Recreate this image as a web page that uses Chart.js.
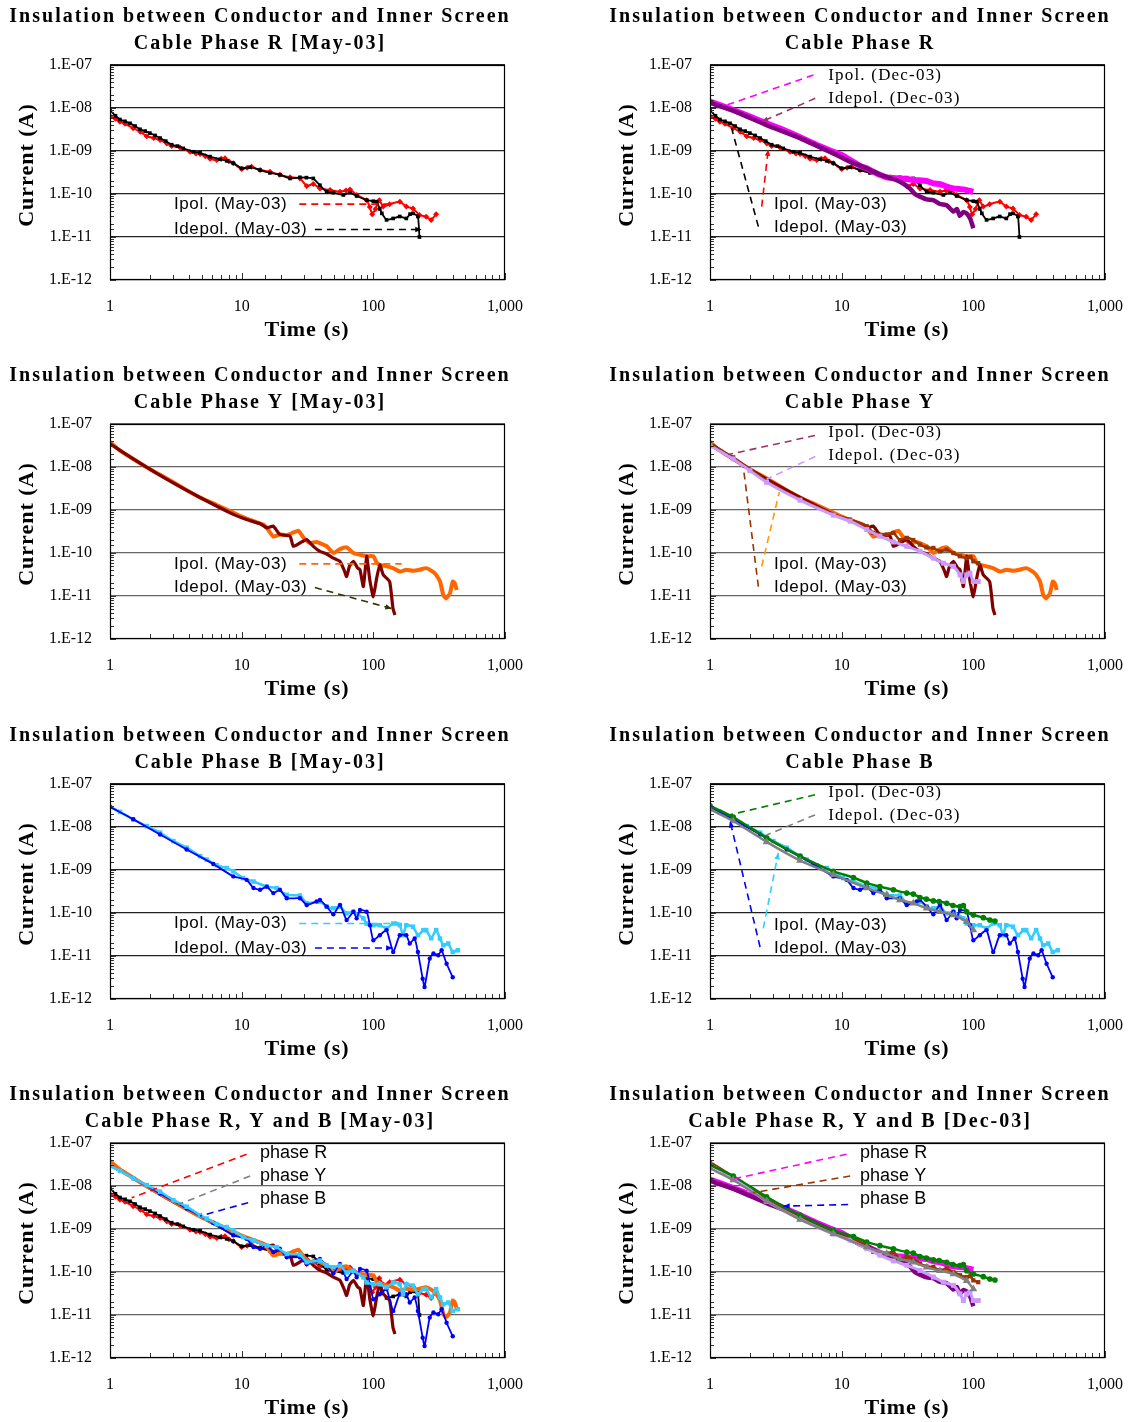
<!DOCTYPE html>
<html>
<head>
<meta charset="utf-8">
<title>Insulation between Conductor and Inner Screen</title>
<script src="https://cdn.jsdelivr.net/npm/chart.js@4.4.1/dist/chart.umd.min.js"></script>
<style>
  html, body { margin:0; padding:0; background:#fff; overflow:hidden; width:1129px; height:1422px; }
  canvas { position:absolute; }
</style>
</head>
<body>
<canvas id="p1" width="529" height="344" style="left:0;top:0"></canvas>
<canvas id="p2" width="529" height="344" style="left:600px;top:0"></canvas>
<canvas id="p3" width="529" height="344" style="left:0;top:359px"></canvas>
<canvas id="p4" width="529" height="344" style="left:600px;top:359px"></canvas>
<canvas id="p5" width="529" height="344" style="left:0;top:719px"></canvas>
<canvas id="p6" width="529" height="344" style="left:600px;top:719px"></canvas>
<canvas id="p7" width="529" height="344" style="left:0;top:1078px"></canvas>
<canvas id="p8" width="529" height="344" style="left:600px;top:1078px"></canvas>
<script>
/* axes */
const xDecades = [1, 10, 100, 1000];
const xTickLabels = ["1", "10", "100", "1,000"];
const yDecades = [1e-12, 1e-11, 1e-10, 1e-9, 1e-8, 1e-7];
const yTickLabels = ["1.E-12", "1.E-11", "1.E-10", "1.E-09", "1.E-08", "1.E-07"];

/* phase R, May-03 */
const rMayPolT = [1,1.1,1.19,1.3,1.5,1.7,1.9,2.15,2.4,2.7,2.94,3.4,4.05,4.5,4.83,5.3,5.75,6.46,7,7.47,8,8.64,10,11,11.9,13.8,16.4,19.5,23.3,27.7,31.2,35,39.3,46.9,55.8,62,66.5,74.7,89,94,98,104,111,119,133,159,178,200,224,252,275,300];
const rMayPolI = [6.5e-9,5.6e-9,4.8e-9,4.3e-9,3.4e-9,2.8e-9,2.2e-9,2.0e-9,1.8e-9,1.5e-9,1.3e-9,1.2e-9,9.6e-10,8.8e-10,8.5e-10,7.5e-10,6.6e-10,6.2e-10,6.6e-10,6.8e-10,5.8e-10,5.2e-10,3.8e-10,4.1e-10,4.3e-10,3.6e-10,3.3e-10,2.8e-10,2.44e-10,2.3e-10,1.53e-10,1.7e-10,1.35e-10,1.24e-10,1.13e-10,1.2e-10,1.28e-10,9.5e-11,7.2e-11,5.0e-11,3.4e-11,4.5e-11,7.2e-11,5.1e-11,5.8e-11,6.6e-11,5.1e-11,4.6e-11,3.25e-11,2.97e-11,2.5e-11,3.4e-11];
const rMayDepolT = [1,1.1,1.19,1.3,1.42,1.55,1.69,1.85,2.01,2.2,2.4,2.65,2.94,3.25,3.6,4.3,4.83,5.75,6.84,7.7,8.64,10,11.57,13.8,16.4,19.5,23.3,27.7,31,35,39.3,44.2,49.7,59.2,66.5,74.7,89,100,106,112,116,126,141.5,158.7,178,190,200,218,224];
const rMayDepolI = [8.7e-9,6.6e-9,5.4e-9,4.9e-9,4.4e-9,3.8e-9,3.2e-9,2.9e-9,2.6e-9,2.3e-9,2.0e-9,1.7e-9,1.4e-9,1.3e-9,1.15e-9,9.6e-10,9.1e-10,7.4e-10,6.4e-10,5.9e-10,5.2e-10,3.95e-10,4.2e-10,3.6e-10,3.1e-10,2.8e-10,2.3e-10,2.44e-10,2.4e-10,2.3e-10,1.6e-10,1.13e-10,1.07e-10,9.5e-11,1.07e-10,9.0e-11,7.2e-11,6.8e-11,6.6e-11,4.5e-11,3.55e-11,2.5e-11,2.7e-11,3.0e-11,2.7e-11,3.4e-11,3.55e-11,3.0e-11,1.0e-11];

/* phase R, Dec-03 */
const rDecPolT = [1,1.19,1.5,2.01,2.69,3.6,4.83,6.46,8.64,10,11.57,13.8,15.5,17.4,19.5,22,27.7,32,37,44.2,49.7,56,62.7,70.6,78,84,92,100];
const rDecPolI = [1.4e-8,1.17e-8,9.0e-9,6.3e-9,4.4e-9,3.1e-9,2.08e-9,1.38e-9,9.6e-10,8.1e-10,6.2e-10,4.5e-10,3.95e-10,3.3e-10,2.8e-10,2.44e-10,2.3e-10,2.2e-10,2.1e-10,2.0e-10,1.77e-10,1.7e-10,1.48e-10,1.35e-10,1.3e-10,1.28e-10,1.2e-10,1.13e-10];
const rDecDepolT = [1,1.5,2.69,4.83,8.64,11.57,15.5,19.5,22,27.7,33,36,39.3,44.2,49.7,55.8,62.7,70.6,75,79,84,89,95,100];
const rDecDepolI = [1.33e-8,8.7e-9,4.0e-9,2.0e-9,8.8e-10,5.65e-10,3.95e-10,2.8e-10,2.5e-10,1.94e-10,1.35e-10,1.0e-10,8.7e-11,7.5e-11,7.2e-11,5.85e-11,5.5e-11,3.9e-11,4.5e-11,3.1e-11,3.8e-11,3.55e-11,2.6e-11,1.6e-11];

/* phase Y, May-03 */
const yMayPolT = [1,1.19,1.5,1.9,2.4,3.03,3.82,4.83,6.46,8.64,10,12.3,14.6,15.5,17.4,19.5,22,24.7,27,29.4,33,37,44,50,55,62.7,70.6,79,89,100,106,112,126,141,159,178,200,224,252,286,300,321,340,357,382,401,415,430];
const yMayPolI = [3.8e-8,2.4e-8,1.54e-8,9.8e-9,6.6e-9,4.4e-9,2.9e-9,1.95e-9,1.31e-9,8.66e-10,7.0e-10,5.5e-10,4.6e-10,3.85e-10,2.4e-10,2.7e-10,2.6e-10,3.0e-10,3.3e-10,2.3e-10,1.7e-10,1.8e-10,1.45e-10,1.0e-10,1.2e-10,1.35e-10,1.0e-10,9.1e-11,8.4e-11,8.4e-11,6.0e-11,5.3e-11,4.9e-11,4.45e-11,3.7e-11,4.07e-11,3.85e-11,4.07e-11,4.45e-11,3.6e-11,3.1e-11,2.17e-11,1.05e-11,8.8e-12,1.15e-11,2.17e-11,2.0e-11,1.38e-11];
const yMayDepolT = [1,1.5,2.69,4.83,8.64,10.9,13.8,15.5,17.4,19.5,23.3,24.7,27.7,31.2,35,39.3,44.2,49.7,55.8,60,62.7,66,70.6,76,79.2,84,89,94,100,106,112,119,133,141,146];
const yMayDepolI = [3.46e-8,1.54e-8,5.2e-9,1.95e-9,7.9e-10,6.0e-10,4.8e-10,3.85e-10,4.2e-10,2.7e-10,2.46e-10,1.43e-10,1.71e-10,2.05e-10,1.43e-10,1.09e-10,9.5e-11,7.6e-11,6.4e-11,4.0e-11,2.84e-11,5.0e-11,6.4e-11,4.5e-11,4.07e-11,1.66e-11,8.4e-11,2.37e-11,9.6e-12,2.6e-11,5.3e-11,3.1e-11,2.17e-11,5.1e-12,3.6e-12];

/* phase Y, Dec-03 */
const yDecPolT = [1,1.5,2.69,4.83,8.64,11.57,15.5,17.4,22,24.7,27.7,31.2,35,39.3,44,49.7,55.8,62.7,70.6,79,89,95,100,109];
const yDecPolI = [3.6e-8,1.68e-8,4.8e-9,1.78e-9,7.9e-10,6.0e-10,4.2e-10,2.94e-10,2.7e-10,2.94e-10,2.0e-10,2.25e-10,2.0e-10,1.57e-10,1.35e-10,1.31e-10,1.09e-10,1.2e-10,1.0e-10,8.4e-11,7.6e-11,8.0e-11,6.4e-11,5.8e-11];
const yDecDepolT = [1,1.5,2.01,2.69,4.83,8.64,11.57,15.5,19.5,24.7,31.2,39.3,49.7,59.2,70.6,79.2,84,89,94.3,100,109];
const yDecDepolI = [3.16e-8,1.54e-8,8.2e-9,4.4e-9,1.69e-9,7.6e-10,5.5e-10,3.5e-10,2.46e-10,1.81e-10,1.43e-10,1.09e-10,7.6e-11,5.8e-11,4.9e-11,3.1e-11,2.17e-11,3.1e-11,3.4e-11,2.17e-11,2.17e-11];

/* phase B, May-03 */
const bMayPolT = [1,1.19,1.5,1.9,2.4,3.03,3.82,4.83,5.42,6.46,7.69,8.64,10.24,12.3,15.5,18.4,22,27.7,31.2,39.3,44.2,49.7,55.8,62.7,70.6,84,89,100,112,126,141.5,158.7,168,178,200,218,240,252,275,300,321,340,370,401,438];
const bMayPolI = [2.94e-8,2.25e-8,1.51e-8,1.05e-8,7.4e-9,4.7e-9,3.3e-9,2.1e-9,1.75e-9,1.29e-9,1.11e-9,9.3e-10,6.5e-10,5.4e-10,4.1e-10,3.8e-10,2.64e-10,2.55e-10,1.69e-10,1.85e-10,1.41e-10,1.29e-10,1.41e-10,9.8e-11,1.07e-10,7.5e-11,5.7e-11,5.2e-11,5.2e-11,4.4e-11,5.7e-11,5.2e-11,3.05e-11,5.2e-11,4.8e-11,3.05e-11,4.0e-11,4.0e-11,2.6e-11,4.0e-11,2.55e-11,1.78e-11,1.95e-11,1.24e-11,1.36e-11];
const bMayDepolT = [1,1.5,2.4,3.82,6.09,8.64,10.9,12.3,13.8,15.5,17.4,19.5,22,27.7,31.2,37.1,39.3,44.2,49.7,55.8,62.7,70.6,74.7,79.2,89,94.3,100,112,126,141.5,158.7,178,189,206,218,237,245,268,286,311,330,360,401];
const bMayDepolI = [2.94e-8,1.51e-8,6.7e-9,3.0e-9,1.38e-9,7.1e-10,5.9e-10,3.8e-10,3.46e-10,4.1e-10,2.9e-10,3.46e-10,2.2e-10,2.2e-10,1.54e-10,1.85e-10,2.0e-10,1.41e-10,9.3e-11,1.54e-10,6.9e-11,1.07e-10,7.5e-11,1.18e-10,1.07e-10,5.2e-11,2.33e-11,3.05e-11,4.0e-11,1.24e-11,3.05e-11,3.05e-11,1.95e-11,2.55e-11,1.24e-11,2.95e-12,1.9e-12,8.7e-12,1.14e-11,1.04e-11,1.36e-11,6.6e-12,3.2e-12];

/* phase B, Dec-03 */
const bDecPolT = [1,1.5,2.69,4.83,8.64,12.3,15.5,19.5,24.7,31.2,35,39.3,44,49.7,55,62.7,70,79.2,84,89,100,119,133.6,146];
const bDecPolI = [3.1e-8,1.71e-8,5.6e-9,2.1e-9,9.3e-10,6.7e-10,4.96e-10,4.1e-10,3.46e-10,2.9e-10,2.75e-10,2.3e-10,2.1e-10,1.91e-10,1.85e-10,1.69e-10,1.5e-10,1.41e-10,1.5e-10,1.07e-10,9.0e-11,7.8e-11,6.9e-11,6.5e-11];
const bDecDepolT = [1,1.5,2.69,4.83,8.64,15.5,22,27.7,35,44.2,55.8,70.6,89,100];
const bDecDepolI = [2.6e-8,1.38e-8,4.5e-9,1.66e-9,7.8e-10,3.8e-10,2.64e-10,2.0e-10,1.69e-10,1.29e-10,1.07e-10,9.0e-11,6.3e-11,4.0e-11];

/* series styles */
const SERIES = {
  rMayPol:   { t: rMayPolT,   i: rMayPolI,   color: "#FF0000", width: 2,   point: "rectRot",  r: 3 },
  rMayDepol: { t: rMayDepolT, i: rMayDepolI, color: "#000000", width: 1.8, point: "rect",     r: 2.6 },
  rDecPol:   { t: rDecPolT,   i: rDecPolI,   color: "#FF00FF", width: 6,   point: "circle",   r: 0 },
  rDecDepol: { t: rDecDepolT, i: rDecDepolI, color: "#800080", width: 4.5, point: "circle",   r: 0 },
  yMayPol:   { t: yMayPolT,   i: yMayPolI,   color: "#FF6600", width: 4,   point: "circle",   r: 0 },
  yMayDepol: { t: yMayDepolT, i: yMayDepolI, color: "#800000", width: 3.2, point: "circle",   r: 0 },
  yDecPol:   { t: yDecPolT,   i: yDecPolI,   color: "#993300", width: 2.5, point: "rect",     r: 3 },
  yDecDepol: { t: yDecDepolT, i: yDecDepolI, color: "#CC99FF", width: 3,   point: "rect",     r: 3.5 },
  bMayPol:   { t: bMayPolT,   i: bMayPolI,   color: "#33CCFF", width: 2.5, point: "rect",     r: 3.2 },
  bMayDepol: { t: bMayDepolT, i: bMayDepolI, color: "#0000FF", width: 1.8, point: "circle",   r: 2.2 },
  bDecPol:   { t: bDecPolT,   i: bDecPolI,   color: "#008000", width: 2.5, point: "circle",   r: 2.8 },
  bDecDepol: { t: bDecDepolT, i: bDecDepolI, color: "#808080", width: 2.5, point: "triangle", r: 4.5 }
};

/* annotation labels and dashed leader lines (data coordinates) */
const HEAD = "Insulation between Conductor and Inner Screen";
const mayLabels = (iPol, iDepol) => [
  { text: "Ipol. (May-03)", t: 3.06, i: iPol, kind: "sans" },
  { text: "Idepol. (May-03)", t: 3.06, i: iDepol, kind: "sans" }
];
const decLabels = (iPol, iDepol) => [
  { text: "Ipol. (Dec-03)", t: 7.9, i: iPol, kind: "serif" },
  { text: "Idepol. (Dec-03)", t: 7.9, i: iDepol, kind: "serif" }
];
const phaseLabels = [
  { text: "phase R", t: 13.8, i: 6.0e-8, kind: "phase" },
  { text: "phase Y", t: 13.8, i: 1.71e-8, kind: "phase" },
  { text: "phase B", t: 13.8, i: 4.9e-9, kind: "phase" }
];

const p1Leaders = [
  { from: [27.4, 5.8e-11], to: [135, 5.8e-11], color: "#FF0000" },
  { from: [36, 1.5e-11], to: [233, 1.5e-11], color: "#000000", arrow: true }
];
const p2Leaders = [
  { from: [6.1, 5.85e-8], to: [1.34, 1.17e-8], color: "#FF00FF" },
  { from: [6.3, 1.68e-8], to: [2.47, 4.8e-9], color: "#993366", arrow: true },
  { from: [2.47, 5.1e-11], to: [2.77, 1.09e-9], color: "#FF0000", arrow: true },
  { from: [2.33, 1.74e-11], to: [1.46, 3.37e-9], color: "#000000" }
];
const p3Leaders = [
  { from: [27.4, 5.6e-11], to: [164, 5.6e-11], color: "#FF6600" },
  { from: [36, 1.57e-11], to: [138, 5.1e-12], color: "#333300", arrow: true }
];
const p4Leaders = [
  { from: [6.27, 5.4e-8], to: [1.38, 1.95e-8], color: "#993366" },
  { from: [6.3, 1.75e-8], to: [2.69, 5.2e-9], color: "#CC99FF" },
  { from: [2.47, 4.9e-11], to: [3.36, 2.6e-9], color: "#FF9900" },
  { from: [2.33, 1.65e-11], to: [1.79, 1.0e-8], color: "#993300" }
];
const p5Leaders = [
  { from: [27.4, 5.7e-11], to: [164, 5.7e-11], color: "#33CCFF", arrow: true },
  { from: [36, 1.54e-11], to: [140, 1.54e-11], color: "#0000FF", arrow: true }
];
const p6Leaders = [
  { from: [6.27, 5.6e-8], to: [1.3, 1.81e-8], color: "#008000" },
  { from: [6.27, 1.91e-8], to: [2.69, 6.5e-9], color: "#808080" },
  { from: [2.54, 4.4e-11], to: [3.3, 2.5e-9], color: "#33CCFF", arrow: true },
  { from: [2.4, 1.62e-11], to: [1.42, 1.38e-8], color: "#0000FF", arrow: true }
];
const p7Leaders = [
  { from: [10.9, 5.5e-8], to: [1.46, 5.3e-9], color: "#FF0000" },
  { from: [11.6, 1.71e-8], to: [3.3, 3.7e-9], color: "#808080" },
  { from: [11.2, 4.1e-9], to: [4.83, 2.0e-9], color: "#0000FF" }
];
const p8Leaders = [
  { from: [10.9, 5.5e-8], to: [1.46, 1.43e-8], color: "#FF00FF" },
  { from: [11.6, 1.71e-8], to: [2.13, 7.0e-9], color: "#993300" },
  { from: [11.2, 3.7e-9], to: [3.6, 3.4e-9], color: "#0000FF", arrow: true }
];

/* panels: first series listed is drawn on top */
const panels = [
  { id: "p1", title: [HEAD, "Cable Phase R [May-03]"], series: ["rMayDepol", "rMayPol"],
    leaders: p1Leaders, labels: mayLabels(5.8e-11, 1.5e-11), grid: "#222" },
  { id: "p2", title: [HEAD, "Cable Phase R"], series: ["rDecDepol", "rDecPol", "rMayDepol", "rMayPol"],
    leaders: p2Leaders, labels: decLabels(5.8e-8, 1.68e-8).concat(mayLabels(5.8e-11, 1.68e-11)), grid: "#222" },
  { id: "p3", title: [HEAD, "Cable Phase Y [May-03]"], series: ["yMayDepol", "yMayPol"],
    leaders: p3Leaders, labels: mayLabels(5.6e-11, 1.57e-11), grid: "#666" },
  { id: "p4", title: [HEAD, "Cable Phase Y"], series: ["yDecDepol", "yDecPol", "yMayDepol", "yMayPol"],
    leaders: p4Leaders, labels: decLabels(6.5e-8, 1.85e-8).concat(mayLabels(5.6e-11, 1.57e-11)), grid: "#666" },
  { id: "p5", title: [HEAD, "Cable Phase B [May-03]"], series: ["bMayDepol", "bMayPol"],
    leaders: p5Leaders, labels: mayLabels(5.7e-11, 1.54e-11), grid: "#222" },
  { id: "p6", title: [HEAD, "Cable Phase B"], series: ["bDecDepol", "bDecPol", "bMayDepol", "bMayPol"],
    leaders: p6Leaders, labels: decLabels(6.4e-8, 1.81e-8).concat(mayLabels(5.2e-11, 1.48e-11)), grid: "#222" },
  { id: "p7", title: [HEAD, "Cable Phase R, Y and B [May-03]"],
    series: ["bMayPol", "bMayDepol", "yMayPol", "yMayDepol", "rMayDepol", "rMayPol"],
    leaders: p7Leaders, labels: phaseLabels, grid: "#666" },
  { id: "p8", title: [HEAD, "Cable Phase R, Y and B [Dec-03]"],
    series: ["bDecDepol", "bDecPol", "yDecDepol", "yDecPol", "rDecDepol", "rDecPol"],
    leaders: p8Leaders, labels: phaseLabels, grid: "#666" }
];

const isDecade = v => {
  const l = Math.log10(v);
  return Math.abs(l - Math.round(l)) < 1e-6;
};
const decadeLabel = (v, decades, labels) => {
  const k = decades.findIndex(d => Math.abs(Math.log10(d) - Math.log10(v)) < 1e-6);
  return k >= 0 ? labels[k] : "";
};

const LABEL_FONTS = {
  sans:  { font: '17px "Liberation Sans"', spacing: "0.6px" },
  serif: { font: '17px "Liberation Serif"', spacing: "1.2px" },
  phase: { font: '18px "Liberation Sans"', spacing: "0px" }
};

/* frame, inner ticks, arrowheads, texts */
const decoPlugin = {
  id: "deco",
  afterDraw(chart) {
    const { ctx, chartArea: a, scales: { x, y } } = chart;
    const p = chart.options.plugins.deco;
    ctx.save();

    ctx.strokeStyle = "#333";
    ctx.lineWidth = 1;
    ctx.beginPath();
    y.ticks.forEach(tk => {
      const py = Math.round(y.getPixelForValue(tk.value)) + 0.5;
      const len = isDecade(tk.value) ? 6 : 4;
      ctx.moveTo(a.left, py); ctx.lineTo(a.left + len, py);
    });
    x.ticks.forEach(tk => {
      const px = Math.round(x.getPixelForValue(tk.value)) + 0.5;
      const len = isDecade(tk.value) ? 7 : 5;
      ctx.moveTo(px, a.bottom); ctx.lineTo(px, a.bottom - len);
    });
    ctx.stroke();

    ctx.strokeStyle = "#000";
    ctx.lineWidth = 1.2;
    ctx.strokeRect(a.left + 0.5, a.top + 0.5, a.right - a.left - 1, a.bottom - a.top - 1);

    // arrow heads on leaders
    p.leaders.filter(l => l.arrow).forEach(l => {
      const x0 = x.getPixelForValue(l.from[0]), y0 = y.getPixelForValue(l.from[1]);
      const x1 = x.getPixelForValue(l.to[0]), y1 = y.getPixelForValue(l.to[1]);
      const ang = Math.atan2(y1 - y0, x1 - x0);
      ctx.fillStyle = l.color;
      ctx.beginPath();
      ctx.moveTo(x1, y1);
      ctx.lineTo(x1 - 7 * Math.cos(ang - 0.4), y1 - 7 * Math.sin(ang - 0.4));
      ctx.lineTo(x1 - 7 * Math.cos(ang + 0.4), y1 - 7 * Math.sin(ang + 0.4));
      ctx.closePath();
      ctx.fill();
    });

    // annotation labels
    ctx.fillStyle = "#000";
    ctx.textAlign = "left";
    ctx.textBaseline = "middle";
    p.labels.forEach(lb => {
      const f = LABEL_FONTS[lb.kind];
      ctx.font = f.font;
      ctx.letterSpacing = f.spacing;
      ctx.fillText(lb.text, x.getPixelForValue(lb.t), y.getPixelForValue(lb.i));
    });

    // chart title
    ctx.textAlign = "center";
    ctx.font = 'bold 20px "Liberation Serif"';
    ctx.letterSpacing = "2px";
    ctx.fillText(p.title[0], 260, 17);
    ctx.fillText(p.title[1], 260, 44);

    // axis titles
    ctx.font = 'bold 22px "Liberation Serif"';
    ctx.letterSpacing = "1px";
    ctx.fillText("Time (s)", 307, 330);
    ctx.translate(27, 165);
    ctx.rotate(-Math.PI / 2);
    ctx.fillText("Current (A)", 0, 0);

    ctx.restore();
  }
};

function seriesDataset(key) {
  const s = SERIES[key];
  return {
    data: s.t.map((t, k) => ({ x: t, y: s.i[k] })),
    borderColor: s.color,
    backgroundColor: s.color,
    borderWidth: s.width,
    pointStyle: s.point,
    pointRadius: s.r,
    pointBorderWidth: 0,
    tension: 0.15
  };
}

function leaderDataset(l) {
  return {
    data: [{ x: l.from[0], y: l.from[1] }, { x: l.to[0], y: l.to[1] }],
    borderColor: l.color,
    borderWidth: 1.6,
    borderDash: [7, 5],
    pointRadius: 0,
    tension: 0
  };
}

const tickFont = { family: "Liberation Serif", size: 16 };

panels.forEach(p => {
  new Chart(document.getElementById(p.id), {
    type: "line",
    data: {
      datasets: p.leaders.map(leaderDataset).concat(p.series.map(seriesDataset))
    },
    options: {
      responsive: false,
      animation: false,
      events: [],
      layout: { padding: { left: 0, right: 24, top: 65, bottom: 0 } },
      plugins: {
        legend: { display: false },
        tooltip: { enabled: false },
        deco: { title: p.title, labels: p.labels, leaders: p.leaders }
      },
      scales: {
        x: {
          type: "logarithmic",
          min: 1,
          max: 1000,
          afterFit: s => { s.height = 64; s.paddingLeft = 0; s.paddingRight = 0; },
          border: { display: false },
          grid: { color: "transparent", drawTicks: false },
          ticks: {
            autoSkip: false,
            maxRotation: 0,
            padding: 17,
            color: "#000",
            font: tickFont,
            callback: v => decadeLabel(v, xDecades, xTickLabels)
          }
        },
        y: {
          type: "logarithmic",
          min: 1e-12,
          max: 1e-7,
          afterFit: s => { s.width = 110; s.paddingTop = 0; s.paddingBottom = 0; },
          border: { display: false },
          grid: {
            drawTicks: false,
            lineWidth: 1.2,
            color: c => (c.tick && isDecade(c.tick.value)) ? p.grid : "transparent"
          },
          ticks: {
            autoSkip: false,
            padding: 18,
            color: "#000",
            font: tickFont,
            callback: v => decadeLabel(v, yDecades, yTickLabels)
          }
        }
      }
    },
    plugins: [decoPlugin]
  });
});
</script>
</body>
</html>
